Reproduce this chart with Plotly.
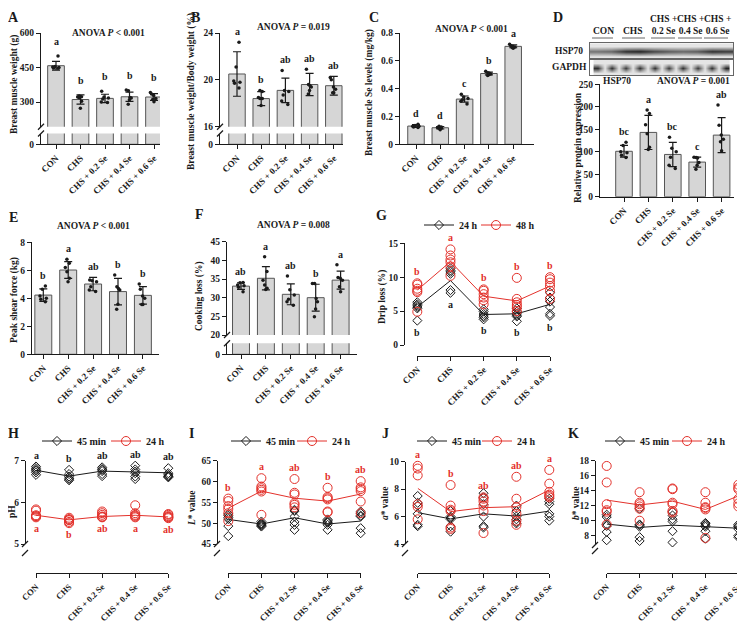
import plotly.graph_objects as go

# page body keeps its default 8 px margin, so the figure is drawn 8 px in from the corner
PAGE_W, PAGE_H = 745, 623
EDGE = 8
W, H = PAGE_W - EDGE, PAGE_H - EDGE
SERIF = 'Liberation Serif'
INK = '#1a1a1a'
RED = '#e3312b'
BAR_FILL = '#d6d6d6'
BAR_EDGE = '#555555'

groups = ['CON', 'CHS', 'CHS + 0.2 Se', 'CHS + 0.4 Se', 'CHS + 0.6 Se']

# A - breast muscle weight (g)
a_mean = [458, 311, 316, 323, 322]
a_sd = [19, 20, 18, 20, 15]
a_pts = [[500, 455, 450, 448, 452, 447],
         [319, 323, 326, 322, 304, 273],
         [347, 318, 313, 300, 298, 322],
         [349, 352, 320, 318, 310, 290],
         [342, 335, 312, 315, 301, 328]]
a_letters = ['a', 'b', 'b', 'b', 'b']

# B - breast muscle weight / body weight (%)
b_mean = [20.5, 18.4, 19.1, 19.6, 19.5]
b_sd = [1.9, 0.6, 1.05, 0.95, 0.8]
b_pts = [[23.2, 21.1, 19.8, 19.7, 19.9, 19.3],
         [19.0, 19.1, 18.5, 18.4, 18.4, 17.8],
         [20.8, 19.1, 18.7, 18.2, 17.9, 19.0],
         [20.9, 19.5, 19.6, 19.1, 18.8, 19.4],
         [20.2, 20.0, 19.4, 19.2, 18.9, 18.9]]
b_letters = ['a', 'b', 'ab', 'ab', 'ab']

# C - breast muscle Se (mg/kg)
c_mean = [0.131, 0.119, 0.325, 0.509, 0.704]
c_sd = [0.010, 0.009, 0.022, 0.010, 0.010]
c_pts = [[0.145, 0.135, 0.13, 0.125, 0.12, 0.13],
         [0.13, 0.125, 0.12, 0.115, 0.105, 0.115],
         [0.36, 0.34, 0.33, 0.32, 0.31, 0.29],
         [0.525, 0.515, 0.51, 0.505, 0.50, 0.495],
         [0.72, 0.71, 0.705, 0.70, 0.695, 0.69]]
c_letters = ['d', 'd', 'c', 'b', 'a']

# D - HSP70 relative expression
d_mean = [101, 143, 94, 77, 137]
d_sd = [13, 38, 27, 11, 39]
d_pts = [[121, 114, 100, 98, 92, 87],
         [193, 185, 160, 140, 110, 105],
         [132, 108, 100, 88, 70, 63],
         [88, 87, 86, 76, 70, 61],
         [204, 159, 137, 128, 122, 102]]
d_letters = ['bc', 'a', 'bc', 'c', 'ab']
blot_groups = ['CON', 'CHS', 'CHS +<br>0.2 Se', 'CHS +<br>0.4 Se', 'CHS +<br>0.6 Se']
hsp70_band = [0.55, 0.6, 0.85, 0.9, 0.75, 0.65, 0.6, 0.65, 0.85, 0.8]
gapdh_band = [0.85, 0.85, 0.8, 0.85, 0.85, 0.8, 0.85, 0.8, 0.85, 0.9]
blot_bg = 0.05

# E - peak shear force (kg)
e_mean = [4.23, 6.02, 5.02, 4.48, 4.21]
e_sd = [0.45, 0.6, 0.48, 0.95, 0.62]
e_pts = [[4.88, 4.64, 4.17, 3.93, 3.76, 4.0],
         [6.79, 6.5, 6.2, 5.9, 5.43, 5.19],
         [5.26, 5.31, 5.19, 4.83, 4.6, 4.48],
         [5.67, 4.83, 4.6, 3.57, 3.21, 4.7],
         [5.02, 4.64, 4.17, 3.55, 3.55, 4.0]]
e_letters = ['b', 'a', 'ab', 'b', 'b']

# F - cooking loss (%)
f_mean = [33.1, 35.2, 30.9, 30.0, 34.7]
f_sd = [0.9, 3.1, 2.8, 3.6, 2.4]
f_pts = [[34.0, 34.1, 33.4, 32.8, 31.6, 33.2],
         [41.0, 37.0, 34.7, 33.4, 32.5, 32.2],
         [35.8, 32.1, 30.7, 29.6, 28.9, 28.0],
         [33.8, 33.8, 29.8, 28.9, 27.0, 24.9],
         [38.8, 35.4, 35.2, 34.7, 32.9, 31.6]]
f_letters = ['ab', 'a', 'ab', 'b', 'a']

# G - drip loss (%)
g_24h_mean = [5.6, 9.5, 4.5, 4.6, 6.0]
g_48h_mean = [8.1, 12.3, 7.2, 6.5, 8.7]
g_24h_pts = [[6.3, 6.0, 5.8, 5.6, 5.4, 3.6],
             [11.3, 11.0, 10.8, 10.5, 8.1, 7.7],
             [5.26, 4.92, 4.57, 4.28, 4.08, 3.79],
             [5.4, 4.9, 4.6, 4.4, 4.2, 3.5],
             [7.7, 7.0, 6.4, 5.6, 4.6, 4.3]]
g_48h_pts = [[9.1, 8.9, 8.0, 7.8, 8.3, 4.9],
             [14.1, 13.2, 12.6, 12.2, 11.6, 10.2],
             [8.2, 8.0, 7.5, 7.0, 6.6, 6.0],
             [9.9, 6.8, 6.3, 5.9, 5.6, 5.0],
             [10.0, 9.7, 9.2, 8.7, 8.0, 6.8]]
g_24h_letters = ['b', 'a', 'b', 'b', 'b']
g_48h_letters = ['b', 'a', 'b', 'b', 'b']

# H - pH
h_45min_mean = [6.77, 6.63, 6.75, 6.73, 6.71]
h_24h_mean = [5.69, 5.58, 5.66, 5.69, 5.65]
h_45min_pts = [[6.86, 6.82, 6.78, 6.76, 6.72, 6.66],
               [6.78, 6.68, 6.62, 6.58, 6.56, 6.53],
               [6.84, 6.80, 6.78, 6.75, 6.68, 6.63],
               [6.88, 6.79, 6.74, 6.70, 6.62, 6.56],
               [6.82, 6.70, 6.66, 6.63, 6.60, 6.62]]
h_24h_pts = [[5.83, 5.80, 5.69, 5.66, 5.64, 5.67],
             [5.63, 5.60, 5.57, 5.53, 5.50, 5.58],
             [5.78, 5.74, 5.70, 5.66, 5.64, 5.65],
             [5.93, 5.74, 5.70, 5.66, 5.64, 5.68],
             [5.72, 5.70, 5.67, 5.65, 5.62, 5.64]]
h_45min_letters = ['a', 'b', 'ab', 'ab', 'ab']
h_24h_letters = ['a', 'b', 'ab', 'a', 'ab']

# I - L* value
i_45min_mean = [50.9, 49.8, 51.3, 49.8, 50.5]
i_24h_mean = [53.6, 57.7, 56.0, 55.3, 57.0]
i_45min_pts = [[52.2, 51.8, 51.4, 51.0, 49.3, 46.9],
               [50.4, 50.0, 49.8, 49.6, 49.4, 49.2],
               [53.2, 52.9, 51.6, 50.3, 49.6, 48.4],
               [50.9, 50.6, 50.3, 50.1, 49.6, 48.4],
               [52.8, 52.4, 51.8, 51.6, 48.8, 47.6]]
i_24h_pts = [[55.9, 55.3, 54.1, 53.4, 52.4, 50.5],
             [60.8, 58.8, 58.4, 58.0, 57.6, 52.0],
             [60.6, 57.3, 56.9, 54.8, 54.4, 53.8],
             [58.5, 56.3, 56.0, 55.7, 52.8, 52.6],
             [60.1, 58.6, 58.2, 57.7, 55.2, 52.4]]
i_24h_letters = ['b', 'a', 'ab', 'b', 'ab']

# J - a* value
j_45min_mean = [6.29, 5.83, 6.2, 6.04, 6.4]
j_24h_mean = [8.06, 6.36, 6.65, 6.72, 7.94]
j_45min_pts = [[7.5, 7.0, 6.8, 6.2, 5.4, 5.3],
               [6.4, 6.0, 5.9, 5.8, 5.3, 4.9],
               [7.7, 7.4, 6.9, 6.0, 5.3, 5.2],
               [6.8, 6.4, 6.0, 5.8, 5.6, 5.5],
               [7.3, 7.1, 6.9, 6.2, 6.0, 5.7]]
j_24h_pts = [[9.7, 9.5, 9.0, 6.9, 6.7, 5.8],
             [8.3, 6.8, 6.5, 6.4, 5.2, 5.1],
             [7.4, 7.3, 7.1, 6.8, 6.4, 4.8],
             [8.9, 7.3, 6.7, 6.2, 5.7, 5.4],
             [9.4, 8.4, 7.8, 7.6, 7.5, 7.4]]
j_24h_letters = ['a', 'b', 'ab', 'ab', 'a']

# K - b* value
k_45min_mean = [9.55, 9.1, 9.4, 9.2, 9.0]
k_24h_mean = [12.75, 12.1, 12.6, 11.5, 13.3]
k_45min_pts = [[10.8, 10.5, 9.5, 9.3, 8.5, 7.4],
               [11.6, 9.5, 9.4, 9.2, 7.8, 7.3],
               [11.2, 10.7, 10.2, 9.9, 8.6, 7.1],
               [9.7, 9.6, 9.4, 9.2, 8.6, 7.6],
               [9.5, 9.3, 9.2, 8.9, 8.0, 7.8]]
k_24h_pts = [[17.3, 15.1, 12.2, 11.4, 11.2, 9.5],
             [13.8, 12.4, 12.2, 11.9, 11.6, 10.0],
             [14.3, 14.2, 12.4, 12.2, 11.3, 11.1],
             [13.8, 12.4, 11.8, 11.7, 11.5, 7.7],
             [14.8, 14.4, 14.2, 12.9, 12.3, 11.9]]

fig = go.Figure()
layout = dict(template='none', width=W, height=H, margin=dict(l=0, r=0, t=0, b=0, pad=0),
              paper_bgcolor='white', plot_bgcolor='rgba(0,0,0,0)',
              showlegend=True, annotations=[], shapes=[])
count = {'x': 0, 'y': 0, 'legend': 1}


# page pixel -> paper fraction
def fx(p):
    return (p - EDGE) / W


def fy(p):
    return 1 - (p - EDGE) / H


def new_axis(kind):
    count[kind] += 1
    return kind + ('' if count[kind] == 1 else str(count[kind]))


def axkey(aid):
    return aid[0] + 'axis' + aid[1:]


def base_axis(size=9.5, **kw):
    ax = dict(showline=True, linecolor=INK, linewidth=1.3, ticks='outside', ticklen=4,
              tickwidth=1.3, tickcolor=INK, showgrid=False, zeroline=False, fixedrange=True,
              automargin=False,
              tickfont=dict(family=SERIF, size=size, color=INK, weight='bold'))
    ax.update(kw)
    return ax


def text(x, y, s, size=9.5, angle=0, color=INK, xanchor='center', yanchor='middle'):
    layout['annotations'].append(dict(
        x=fx(x), y=fy(y), xref='paper', yref='paper', text=s, showarrow=False,
        xanchor=xanchor, yanchor=yanchor, textangle=angle,
        font=dict(family=SERIF, size=size, color=color, weight='bold')))


def letter(x, y, s, xid, yid, above=True, color=INK, lift=3):
    layout['annotations'].append(dict(
        x=x, y=y, xref=xid, yref=yid, text=s, showarrow=False, xanchor='center',
        yanchor='bottom' if above else 'top', yshift=lift if above else -lift,
        font=dict(family=SERIF, size=10, color=color, weight='bold')))


def add_break(xp, y_end, y_start):
    for yy in (y_end, y_start):
        layout['shapes'].append(dict(type='line', xref='paper', yref='paper',
                                     x0=fx(xp - 3), x1=fx(xp + 3), y0=fy(yy + 3), y1=fy(yy - 3),
                                     line=dict(color=INK, width=1.3)))


def bar_panel(mean, sd, pts, letters, yax, c0, step, xend, segs, lift=3):
    xid = new_axis('x')
    yids = [new_axis('y') for _ in segs]
    layout[axkey(xid)] = base_axis(size=9, domain=[fx(yax), fx(xend)],
                                   range=[-(c0 - yax) / step, (xend - c0) / step],
                                   anchor=yids[-1], type='category', tickangle=-45)
    for i, (top, bot, rng, tv) in enumerate(segs):
        yid = yids[i]
        layout[axkey(yid)] = base_axis(domain=[fy(bot), fy(top)], range=rng, tickvals=tv, anchor=xid)
        fig.add_trace(go.Bar(x=groups, y=mean, xaxis=xid, yaxis=yid, width=0.68,
                             marker=dict(color=BAR_FILL, line=dict(color=BAR_EDGE, width=1)),
                             error_y=dict(type='data', array=sd, visible=(i == 0), color=INK,
                                          thickness=1.2, width=4),
                             showlegend=False, hoverinfo='skip'))
        if i == 0:
            xs = [g for g, p in zip(groups, pts) for _ in p]
            ys = [v for p in pts for v in p]
            fig.add_trace(go.Box(x=xs, y=ys, xaxis=xid, yaxis=yid, boxpoints='all', jitter=0.7,
                                 pointpos=0, width=0.45, fillcolor='rgba(0,0,0,0)',
                                 line=dict(width=0, color='rgba(0,0,0,0)'),
                                 marker=dict(color=INK, size=3.5), showlegend=False, hoverinfo='skip'))
            for g, m, s, p, lab in zip(groups, mean, sd, pts, letters):
                letter(g, max(m + s, max(p)), lab, xid, yid, lift=lift)
    if len(segs) > 1:
        add_break(yax, segs[0][1], segs[1][0])
    return xid, yids


def add_legend_entry(name, color, symbol, size, cx, cy, xid, yid):
    count['legend'] += 1
    lid = 'legend' + str(count['legend'])
    layout[lid] = dict(x=fx(cx - 26), y=fy(cy), xanchor='left', yanchor='middle', orientation='h',
                       bgcolor='rgba(0,0,0,0)', borderwidth=0, itemwidth=30,
                       font=dict(family=SERIF, size=10, color=INK, weight='bold'))
    fig.add_trace(go.Scatter(x=[None], y=[None], mode='lines+markers', name=name, legend=lid,
                             xaxis=xid, yaxis=yid, line=dict(color=color, width=1),
                             marker=dict(symbol=symbol, size=size, color=color,
                                         line=dict(color=color, width=1))))


def line_panel(series, yax, t0, t4, x_line, segs, label_size=9):
    xid = new_axis('x')
    yids = [new_axis('y') for _ in segs]
    layout[axkey(xid)] = base_axis(size=label_size, domain=[fx(t0), fx(t4)], range=[0, 4],
                                   anchor='free', position=fy(x_line), type='category', tickangle=-45)
    for yid, (top, bot, rng, tv) in zip(yids, segs):
        layout[axkey(yid)] = base_axis(domain=[fy(bot), fy(top)], range=rng, tickvals=tv,
                                       anchor='free', position=fx(yax))
    if len(segs) > 1:
        add_break(yax, segs[0][1], segs[1][0])
    yid = yids[0]
    for pts, mean, color, symbol, size, name, leg, letters, above in series:
        fig.add_trace(go.Scatter(x=groups, y=mean, mode='lines', line=dict(color=color, width=1),
                                 xaxis=xid, yaxis=yid, showlegend=False, hoverinfo='skip',
                                 cliponaxis=False))
        xs = [g for g, p in zip(groups, pts) for _ in p]
        ys = [v for p in pts for v in p]
        fig.add_trace(go.Scatter(x=xs, y=ys, mode='markers', xaxis=xid, yaxis=yid,
                                 marker=dict(symbol=symbol, size=size, color=color,
                                             line=dict(color=color, width=1)),
                                 showlegend=False, hoverinfo='skip', cliponaxis=False))
        add_legend_entry(name, color, symbol, size, leg[0], leg[1], xid, yid)
        if letters:
            for g, p, lab in zip(groups, pts, letters):
                letter(g, max(p) if above else min(p), lab, xid, yid, above=above, color=color, lift=4)


# ---- bar panels
bar_panel(a_mean, a_sd, a_pts, a_letters, 41, 56, 24.5, 160,
          [(33, 126.7, [193, 600], [300, 450, 600]), (133.5, 144.3, [0, 40], [0])], lift=7)
bar_panel(b_mean, b_sd, b_pts, b_letters, 220, 237, 24.2, 343,
          [(33, 126.7, [16, 24], [16, 20, 24]), (133.5, 144.3, [0, 2], [0])])
bar_panel(c_mean, c_sd, c_pts, c_letters, 400, 416, 24.3, 534,
          [(33, 144.3, [0, 0.8], [0, 0.2, 0.4, 0.6, 0.8])])
bar_panel(d_mean, d_sd, d_pts, d_letters, 600, 624, 24.4, 734,
          [(84.3, 196.7, [0, 250], [0, 50, 100, 150, 200, 250])])
bar_panel(e_mean, e_sd, e_pts, e_letters, 32, 43.3, 24.9, 159,
          [(242.3, 354.3, [0, 8], [0, 2, 4, 6, 8])])
bar_panel(f_mean, f_sd, f_pts, f_letters, 227, 241, 24.9, 357,
          [(241.7, 335, [20, 45], [20, 25, 30, 35, 40, 45]), (343.3, 354.3, [0, 5], [0])])

# ---- western blot strips (panel D)
for band, ytop, ybot, split in ((hsp70_band, 43.3, 58.3, False), (gapdh_band, 60, 75, True)):
    bx = new_axis('x')
    by = new_axis('y')
    if split:
        xs, row = [], []
        for i, v in enumerate(band):
            xs.append(i)
            row.append(v)
            if i < len(band) - 1:
                xs.append(i + 0.5)
                row.append(blot_bg)
    else:
        xs, row = list(range(len(band))), list(band)
    fig.add_trace(go.Heatmap(x=xs, y=[0, 1, 2], z=[[blot_bg] * len(row), row, [blot_bg] * len(row)],
                             xaxis=bx, yaxis=by, zmin=0, zmax=1, zsmooth='best', showscale=False,
                             colorscale=[[0, '#f0f0f0'], [1, '#0d0d0d']], hoverinfo='skip'))
    blot_ax = dict(showline=True, mirror=True, linecolor='#666', linewidth=1, ticks='',
                   showticklabels=False, showgrid=False, zeroline=False, fixedrange=True,
                   automargin=False)
    layout[axkey(bx)] = dict(blot_ax, domain=[fx(590), fx(733)], range=[-0.5, len(band) - 0.5], anchor=by)
    layout[axkey(by)] = dict(blot_ax, domain=[fy(ybot), fy(ytop)], range=[-0.5, 2.5], anchor=bx)

for gx, lab, (u0, u1) in zip([603, 633, 663, 690, 717], blot_groups,
                             [(592, 613), (622, 645), (651, 675), (678, 702), (704, 728)]):
    text(gx, 37.5, lab, size=9.5, yanchor='bottom')
    layout['shapes'].append(dict(type='line', xref='paper', yref='paper', x0=fx(u0), x1=fx(u1),
                                 y0=fy(38), y1=fy(38), line=dict(color='#666', width=1)))
text(569, 51, 'HSP70', size=9.5)
text(569, 67.5, 'GAPDH', size=9.5)

# ---- line panels
line_panel([(g_24h_pts, g_24h_mean, INK, 'diamond-open', 7, '24 h', (445, 225), g_24h_letters, False),
            (g_48h_pts, g_48h_mean, RED, 'circle-open', 9, '48 h', (502, 225), g_48h_letters, True)],
           404, 417.3, 550, 355.7, [(243.3, 345, [0, 15], [0, 5, 10, 15])])
line_panel([(h_45min_pts, h_45min_mean, INK, 'diamond-open', 7, '45 min', (63, 441), h_45min_letters, True),
            (h_24h_pts, h_24h_mean, RED, 'circle-open', 9, '24 h', (132, 441), h_24h_letters, False)],
           25, 36, 168.3, 573.3, [(460.7, 544, [5, 7], [5, 6, 7]), (553, 561.7, [0, 1], [0])], 8.6)
line_panel([(i_45min_pts, i_45min_mean, INK, 'diamond-open', 7, '45 min', (252, 441), None, True),
            (i_24h_pts, i_24h_mean, RED, 'circle-open', 9, '24 h', (318, 441), i_24h_letters, True)],
           217, 228.3, 360.7, 573.3, [(460.7, 544, [45, 65], [45, 50, 55, 60, 65]), (553, 561.7, [0, 1], [0])], 8.6)
line_panel([(j_45min_pts, j_45min_mean, INK, 'diamond-open', 7, '45 min', (438, 441), None, True),
            (j_24h_pts, j_24h_mean, RED, 'circle-open', 9, '24 h', (503, 441), j_24h_letters, True)],
           405, 417.7, 549.3, 573.3, [(461.7, 544, [4, 10], [4, 6, 8, 10]), (553, 561.7, [0, 1], [0])], 8.6)
line_panel([(k_45min_pts, k_45min_mean, INK, 'diamond-open', 7, '45 min', (626, 441), None, True),
            (k_24h_pts, k_24h_mean, RED, 'circle-open', 9, '24 h', (693, 441), None, True)],
           595, 606.7, 738.3, 573.3, [(460.7, 545, [6.76, 18], [8, 10, 12, 14, 16, 18]), (551, 561.3, [0, 1], [0])], 8.6)

# ---- panel letters
for lab, x, y in [('A', 13, 18), ('B', 195, 18), ('C', 374, 18), ('D', 558, 18),
                  ('E', 14, 217), ('F', 199, 214), ('G', 381, 216),
                  ('H', 14, 434), ('I', 191, 433), ('J', 385, 433), ('K', 573, 433)]:
    text(x, y, lab, size=14)

# ---- axis titles
for s, x, y in [('Breast muscle weight (g)', 14, 85),
                ('Breast muscle weight/Body weight (%)', 191, 92),
                ('Breast muscle Se levels (mg/kg)', 370, 93),
                ('Relative protein expression', 578, 148),
                ('Peak shear force (kg)', 14, 300),
                ('Cooking loss (%)', 199, 296),
                ('Drip loss (%)', 382, 297),
                ('pH', 12, 512),
                ('<i>L</i>* value', 192, 508),
                ('<i>a</i>* value', 385, 503),
                ('<i>b</i>* value', 576, 503)]:
    text(x, y, s, size=9.5, angle=-90)

# ---- ANOVA labels
for s, x, y in [('ANOVA <i>P</i> &lt; 0.001', 108, 33),
                ('ANOVA <i>P</i> = 0.019', 293, 27),
                ('ANOVA <i>P</i> &lt; 0.001', 471, 29),
                ('HSP70', 617, 81),
                ('ANOVA <i>P</i> = 0.001', 693, 81),
                ('ANOVA <i>P</i> &lt; 0.001', 93, 226),
                ('ANOVA <i>P</i> = 0.008', 293, 225)]:
    text(x, y, s, size=9.5)

fig.update_layout(layout)
fig.write_html('out.html')
